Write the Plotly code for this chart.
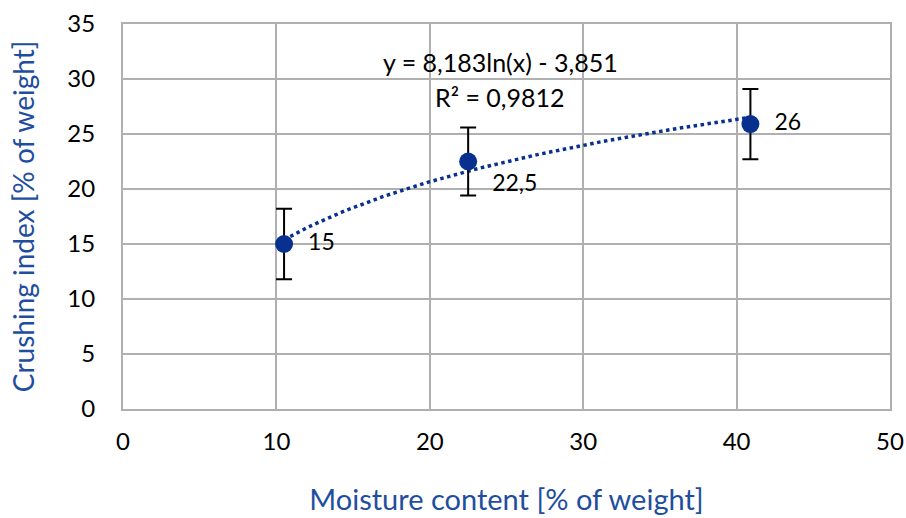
import numpy as np
import plotly.graph_objects as go

moisture = [10.5, 22.5, 40.9]
crushing = [15.0, 22.5, 25.9]
err = [3.2, 3.1, 3.2]
point_labels = ["15", "22,5", "26"]
label_pos = ["middle right", "bottom right", "middle right"]
trend_coef = [8.183, -3.851]  # y = a*ln(x) + b
equation_lines = ["y = 8,183ln(x) - 3,851", "R² = 0,9812"]
equation_y = [31.55, 28.4]
x_ticks = [0, 10, 20, 30, 40, 50]
y_ticks = [0, 5, 10, 15, 20, 25, 30, 35]

navy = "#08318F"
title_blue = "#1F4E9E"
grid = "#B0B0B0"
font = "Lato"

xt = np.linspace(min(moisture), max(moisture), 120)
yt = trend_coef[0] * np.log(xt) + trend_coef[1]

fig = go.Figure()
fig.add_trace(go.Scatter(x=xt, y=yt, mode="lines",
                         line=dict(color=navy, width=3.5, dash="dot"),
                         hoverinfo="skip", showlegend=False))
fig.add_trace(go.Scatter(
    x=moisture, y=crushing, mode="markers+text",
    marker=dict(color=navy, size=18),
    error_y=dict(type="data", array=err, color="black", thickness=2, width=8),
    text=["  " + t for t in point_labels], textposition=label_pos,
    textfont=dict(family=font, size=23, color="black"),
    showlegend=False))

for line, yy in zip(equation_lines, equation_y):
    fig.add_annotation(x=24.6, y=yy, xref="x", yref="y", text=line,
                       showarrow=False, align="center",
                       font=dict(family=font, size=25, color="black"))

fig.update_layout(
    width=906, height=518,
    margin=dict(l=123, r=16, t=24, b=109),
    paper_bgcolor="white", plot_bgcolor="white",
    font=dict(family=font, size=24, color="black"),
)
fig.update_xaxes(range=[0, 50], tickvals=x_ticks, showgrid=True, gridcolor=grid,
                 gridwidth=2, showline=True, linecolor=grid, linewidth=2, mirror=True,
                 zeroline=False, ticks="", ticklabelstandoff=10, automargin=False,
                 ticklabeloverflow="allow",
                 tickfont=dict(family=font, size=24),
                 title=dict(text="Moisture content [% of weight]", standoff=36,
                            font=dict(family=font, size=29, color=title_blue)))
fig.update_yaxes(range=[0, 35], tickvals=y_ticks, showgrid=True, gridcolor=grid,
                 gridwidth=2, showline=True, linecolor=grid, linewidth=2, mirror=True,
                 zeroline=False, ticks="", ticklabelstandoff=21, automargin=False,
                 tickfont=dict(family=font, size=24),
                 title=dict(text="Crushing index [% of weight]", standoff=25,
                            font=dict(family=font, size=28, color=title_blue)))

fig.write_html("out.html", config={"displayModeBar": False},
               post_script="document.body.style.margin='0';document.body.style.overflow='hidden';")
